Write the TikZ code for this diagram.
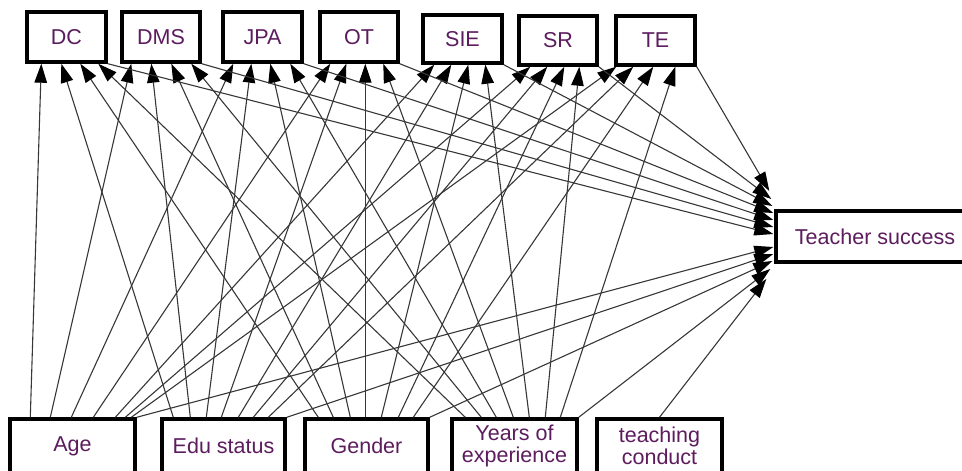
\documentclass[tikz,border=0pt]{standalone}
\usepackage{fontspec}
\setmainfont{Liberation Sans}
\usetikzlibrary{arrows.meta,calc}
\definecolor{txt}{RGB}{92,28,94}
\definecolor{edgecol}{RGB}{55,55,55}
\begin{document}
\begin{tikzpicture}[x=1pt,y=-1pt,
  box/.style={draw=black,line width=3.4pt,fill=white,text=txt,font=\fontsize{21.5}{21.5}\selectfont,inner sep=0pt,align=center},
  edge/.style={draw=edgecol,line width=1.1pt,-{Triangle[length=19pt,width=12.5pt,black]}}]
\useasboundingbox (0,0) rectangle (962,471);
% top nodes
\node[box,minimum width=79pt,minimum height=50pt] (dc) at (66.5,37) {DC};
\node[box,minimum width=78pt,minimum height=50pt] (dms) at (161,37) {DMS};
\node[box,minimum width=79pt,minimum height=50pt] (jpa) at (262.5,37) {JPA};
\node[box,minimum width=78pt,minimum height=50pt] (ot) at (359,37) {OT};
\node[box,minimum width=79pt,minimum height=48pt] (sie) at (462.5,39) {SIE};
\node[box,minimum width=78pt,minimum height=49pt] (sr) at (558,40.5) {SR};
\node[box,minimum width=79pt,minimum height=49pt] (te) at (655.5,40.5) {TE};
% right node
\node[box,minimum width=198pt,minimum height=51pt] (ts) at (875,236.5) {Teacher success};
% bottom nodes
\node[box,minimum width=125pt,minimum height=54pt] (age) at (72.5,446) {Age};
\node[box,minimum width=123pt,minimum height=54pt] (edu) at (223.5,446) {Edu status};
\node[box,minimum width=123pt,minimum height=54pt] (gender) at (366.5,446) {Gender};
\node[box,minimum width=125pt,minimum height=54pt] (years) at (514.5,446) {Years of\\experience};
\node[box,minimum width=125pt,minimum height=54pt] (tc) at (659.5,446) {teaching\\conduct};
% edges bottom -> top
\foreach \src/\sx/\tgt/\tx in {
  age/22/dc/16, age/42/dms/11, age/63/jpa/12, age/85/ot/12, age/107/sie/13, age/117/sr/13, age/123/te/2,
  edu/13/dc/36, edu/30/dms/31, edu/46/jpa/30, edu/61/ot/28, edu/78/sie/30, edu/93/sr/30, edu/108/te/19,
  gender/15/dc/55, gender/30/dms/51, gender/47/jpa/49, gender/62/ot/47, gender/78/sie/47, gender/95/sr/47, gender/110/te/39,
  years/15/dc/73, years/31/dms/71, years/46/jpa/69, years/63/ot/65, years/79/sie/64, years/95/sr/62, years/110/te/61}
  \draw[edge] ($(\src.north west)+(\sx,0)$) -- ($(\tgt.south west)+(\tx,0)$);
% edges top -> Teacher success
\foreach \src/\dx/\dy in {dc/-1/-2.5, dms/-1/-9.5, jpa/-1/-16.5, ot/-1/-23.5, sie/-2/-30.5, sr/-3/-37.5, te/-5/-45.5}
  \draw[edge] (\src.south east) -- ($(ts.west)+(\dx,\dy)$);
% edges bottom -> Teacher success
\foreach \src/\dx/\dy in {age/-1/10.5, edu/-1/17.5, gender/-2/24.5, years/-4/32.5}
  \draw[edge] (\src.north east) -- ($(ts.west)+(\dx,\dy)$);
\draw[edge] (tc.north) -- ($(ts.west)+(-8,42.5)$);
\end{tikzpicture}
\end{document}
